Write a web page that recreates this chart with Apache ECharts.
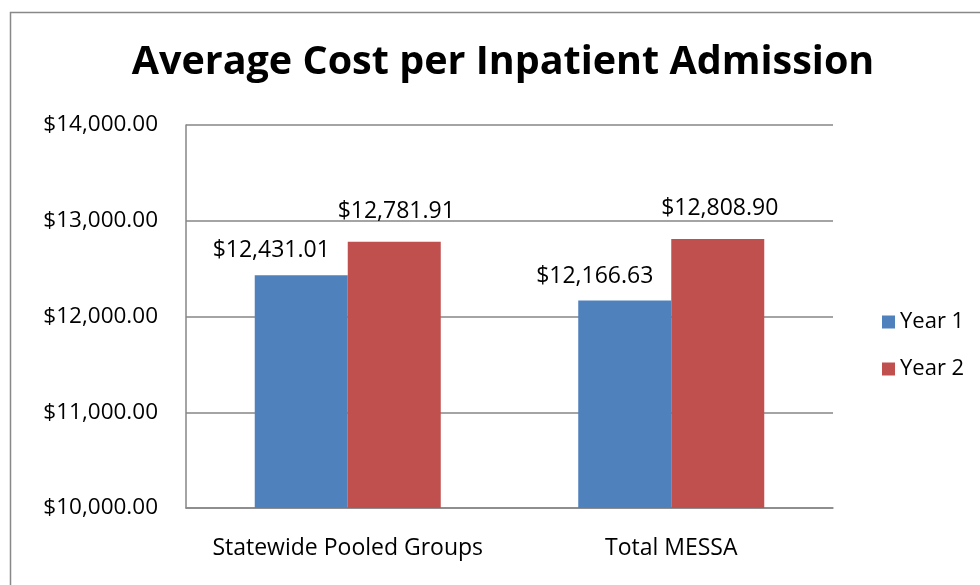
<!DOCTYPE html>
<html>
<head>
    <meta charset="UTF-8">
    <title>Average Cost per Inpatient Admission</title>
    <script src="https://cdn.jsdelivr.net/npm/echarts@6/dist/echarts.min.js"></script>
    <style>
        html, body { margin: 0; padding: 0; background: #fff; }
    </style>
</head>
<body>
<div id="chart" style="width: 980px;height:585px;"></div>
<script type="text/javascript">
    var categories = ['Statewide Pooled Groups', 'Total MESSA'];
    var year1 = [12431.01, 12166.63];
    var year2 = [12781.91, 12808.90];
    var yTicks = [10000, 11000, 12000, 13000, 14000];

    var font = 'Open Sans';

    function money(v) {
        return '$' + Number(v).toLocaleString('en-US', {minimumFractionDigits: 2, maximumFractionDigits: 2});
    }

    var chart = echarts.init(document.getElementById('chart'));

    function barLabel(dx, dist) {
        return {
            show: true,
            position: 'top',
            distance: dist,
            offset: [dx, 0],
            color: '#000',
            fontFamily: font,
            fontSize: 23,
            formatter: function (p) { return money(p.value); }
        };
    }

    var option = {
        animation: false,
        title: {
            text: 'Average Cost per Inpatient Admission',
            left: 498,
            top: 38,
            textAlign: 'center',
            textStyle: {
                fontFamily: font,
                fontWeight: 'bold',
                fontSize: 39.5,
                color: '#000'
            }
        },
        graphic: [{
            type: 'rect',
            shape: {x: 10.5, y: 12.5, width: 1000, height: 600},
            style: {fill: 'none', stroke: '#888', lineWidth: 1.5},
            silent: true
        }],
        legend: {
            orient: 'vertical',
            left: 877,
            top: 306,
            itemWidth: 13,
            itemHeight: 13,
            itemGap: 25,
            icon: 'rect',
            textStyle: {fontFamily: font, fontSize: 22, color: '#000'},
            data: ['Year 1', 'Year 2']
        },
        grid: {left: 186, right: 147, top: 125, bottom: 77},
        xAxis: {
            type: 'category',
            data: categories,
            axisLine: {show: true, lineStyle: {color: '#868686', width: 1.5}},
            axisTick: {show: false},
            axisLabel: {interval: 0, color: '#000', fontFamily: font, fontSize: 23, margin: 29}
        },
        yAxis: {
            type: 'value',
            min: yTicks[0],
            max: yTicks[yTicks.length - 1],
            interval: 1000,
            axisLine: {show: true, lineStyle: {color: '#868686', width: 1.5}},
            axisTick: {show: false},
            splitLine: {lineStyle: {color: '#868686', width: 1.5}},
            axisLabel: {
                color: '#000', fontFamily: font, fontSize: 22.5, margin: 28,
                formatter: function (v) { return money(v); }
            }
        },
        series: [
            {
                name: 'Year 1',
                type: 'bar',
                data: year1,
                barGap: '0%',
                barCategoryGap: '42.5%',
                itemStyle: {color: '#4F81BD'},
                label: barLabel(-30, 13)
            },
            {
                name: 'Year 2',
                type: 'bar',
                data: year2,
                barGap: '0%',
                barCategoryGap: '42.5%',
                itemStyle: {color: '#C0504D'},
                label: barLabel(2, 19)
            }
        ]
    };

    chart.setOption(option);
</script>
</body>
</html>
